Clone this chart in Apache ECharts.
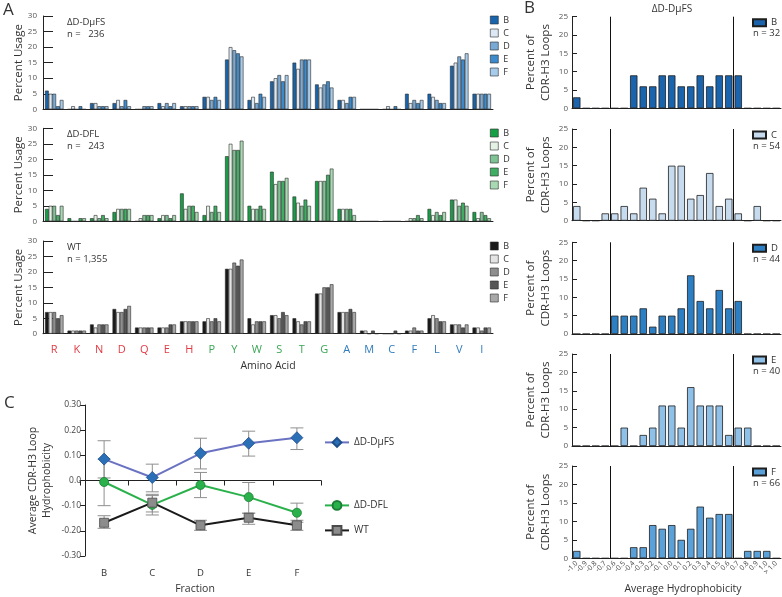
<!DOCTYPE html>
<html><head><meta charset="utf-8">
<script src="https://cdn.jsdelivr.net/npm/echarts@6/dist/echarts.min.js"></script>
<style>html,body{margin:0;padding:0;background:#fff}#c{width:782px;height:597px}</style>
</head><body><div id="c"></div>
<script>
// ---------- DATA ----------
const aminoAcids = ['R','K','N','D','Q','E','H','P','Y','W','S','T','G','A','M','C','F','L','V','I'];
const fractions = ['B','C','D','E','F'];
// Panel A: percent usage, ΔD-DμFS
const dmuB = [6,0,2,2,0,2,1,4,16,3,9,15,8,3,0,0,5,5,14,5];
const dmuC = [5,1,2,3,0,1,1,4,20,4,10,13,7,3,0,1,2,4,15,5];
const dmuD = [5,0,1,1,1,2,1,3,19,2,11,16,8,2,0,0,3,3,17,5];
const dmuE = [1,1,1,3,1,1,1,4,18,5,9,16,9,4,0,1,2,2,16,5];
const dmuF = [3,0,1,1,1,2,1,3,17,4,11,16,7,4,0,0,3,2,18,5];
// ΔD-DFL
const dflB = [4,1,1,3,0,1,9,2,21,5,16,8,13,4,0,0,0,4,7,3];
const dflC = [5,0,2,4,1,2,4,5,25,4,12,6,13,4,0,0,1,2,7,1];
const dflD = [5,0,1,4,2,2,5,3,23,4,13,5,13,4,0,0,1,3,5,3];
const dflE = [2,1,2,4,2,1,5,5,23,5,13,7,15,4,0,0,2,2,6,2];
const dflF = [5,1,1,4,2,2,3,3,26,4,14,5,17,2,0,0,1,3,5,1];
// WT
const wtB = [7,1,3,8,2,2,4,4,21,5,6,5,13,7,1,0,1,5,3,2];
const wtC = [7,1,2,7,2,2,4,5,21,3,6,4,13,7,1,0,1,6,3,2];
const wtD = [7,1,3,7,2,2,4,4,23,4,5,3,15,7,0,0,2,5,3,1];
const wtE = [5,1,3,8,2,3,4,5,22,4,7,4,15,8,1,1,1,4,2,2];
const wtF = [6,1,3,9,2,3,4,4,24,4,6,4,16,7,0,0,1,4,3,2];
// Panel B: histogram of average hydrophobicity (ΔD-DμFS)
const bins = ['-1.0','-0.9','-0.8','-0.7','-0.6','-0.5','-0.4','-0.3','-0.2','-0.1','0.0','0.1','0.2','0.3','0.4','0.5','0.6','0.7','0.8','0.9','1.0','> 1.0'];
const histB = [3,0,0,0,0,0,9,6,6,9,9,6,6,9,6,9,9,9,0,0,0,0];
const histC = [4,0,0,2,2,4,2,9,6,2,15,15,6,7,13,4,6,2,0,4,0,0];
const histD = [0,0,0,0,5,5,5,7,2,5,5,7,16,9,7,12,7,9,0,0,0,0];
const histE = [0,0,0,0,0,5,0,3,5,11,11,5,16,11,11,11,3,5,5,0,0,0];
const histF = [2,0,0,0,0,0,3,3,9,8,9,5,8,14,11,12,12,0,2,2,2,0];
const histN = [32,54,44,40,66];
const cutoffs = [-0.65, 0.65];
// Panel C: average hydrophobicity per fraction
const dmuMean = [0.085, 0.012, 0.108, 0.148, 0.170];
const dmuLo   = [0.010, -0.045, 0.046, 0.097, 0.123];
const dmuHi   = [0.158, 0.065, 0.168, 0.196, 0.209];
const dflMean = [-0.006, -0.097, -0.018, -0.066, -0.128];
const dflLo   = [-0.100, -0.137, -0.068, -0.130, -0.166];
const dflHi   = [0.085, -0.060, 0.032, -0.008, -0.090];
const wtMean  = [-0.168, -0.088, -0.178, -0.148, -0.178];
const wtLo    = [-0.190, -0.125, -0.198, -0.174, -0.198];
const wtHi    = [-0.140, -0.055, -0.158, -0.130, -0.158];

// ---------- CHART ----------
const FONT = '"Open Sans","Noto Sans",sans-serif';
const AX = '#222';
const chart = echarts.init(document.getElementById('c'));

const grid = [], xAxis = [], yAxis = [], series = [], legend = [], title = [];
const txt = (text, left, top, size, extra) => title.push(Object.assign({
  text, left, top, padding: 0,
  textStyle: {fontSize: size, fontWeight: 'normal', color: '#333', fontFamily: FONT}
}, extra || {}));

// ----- Panel A -----
const panelA = [
  {key:'dmu', top:16, h:93.3, data:[dmuB,dmuC,dmuD,dmuE,dmuF],
   colors:['#1864ad','#dce8f4','#7aa9d5','#3d8bcc','#a7cbea'], lt:15.5, label:'ΔD-DμFS', n:'n =   236'},
  {key:'dfl', top:128.3, h:93, data:[dflB,dflC,dflD,dflE,dflF],
   colors:['#16a046','#e4f2e6','#7fc293','#3fae62','#a9d9b3'], lt:128.5, label:'ΔD-DFL', n:'n =   243'},
  {key:'wt', top:241, h:92.7, data:[wtB,wtC,wtD,wtE,wtF],
   colors:['#1a1a1a','#e4e4e4','#8e8e8e','#565656','#a8a8a8'], lt:241.5, label:'WT', n:'n = 1,355'}
];
const aaColor = i => i < 7 ? '#e23b44' : (i < 13 ? '#3aa655' : '#2f7bbd');
panelA.forEach((p, gi) => {
  grid.push({left:43, width:450, top:p.top, height:p.h});
  xAxis.push({
    gridIndex: gi, type:'category', data: aminoAcids,
    axisLine:{lineStyle:{color:AX, width:1}},
    axisTick:{inside:true, length:3, lineStyle:{color:AX}},
    axisLabel: gi === 2 ? {show:true, interval:0, fontSize:11, margin:11, fontFamily:FONT,
      color: (v, i) => aaColor(aminoAcids.indexOf(v))} : {show:false}
  });
  yAxis.push({
    gridIndex: gi, type:'value', min:0, max:30, interval:5,
    axisLine:{show:true, lineStyle:{color:AX}},
    axisTick:{show:true, inside:true, length:10, lineStyle:{color:AX}},
    axisLabel:{fontSize:8, color:'#555', margin:6, fontFamily:FONT},
    splitLine:{show:false},
    name:'Percent Usage', nameLocation:'middle', nameGap:18, nameMoveOverlap:false,
    nameTextStyle:{fontSize:11.5, color:'#333', fontFamily:FONT}
  });
  const names = [];
  p.data.forEach((arr, k) => {
    const nm = p.key + '|' + fractions[k];
    names.push(nm);
    series.push({
      type:'bar', name:nm, xAxisIndex:gi, yAxisIndex:gi, data:arr,
      barGap:'0%', barCategoryGap:'18%',
      itemStyle:{color:p.colors[k], borderColor:'#2a2a2a', borderWidth:0.6},
      emphasis:{disabled:true}, animation:false
    });
  });
  legend.push({
    data:names, orient:'vertical', left:490, top:p.lt, itemWidth:8, itemHeight:8, itemGap:4,
    icon:'rect', selectedMode:false, formatter: n => n.split('|')[1],
    itemStyle:{borderWidth:0.6},
    textStyle:{fontSize:9, color:'#333', fontFamily:FONT}, padding:0
  });
  txt(p.label, 67, p.top + 1, 9.5);
  txt(p.n, 67, p.top + 13, 9.5);
});
txt('Amino Acid', 268, 361, 10.5, {textAlign:'center'});

// ----- Panel B -----
const panelB = [
  {top:16.7, h:91.6, data:histB, color:'#1a64ad'},
  {top:129, h:91.7, data:histC, color:'#c7dbef'},
  {top:242.3, h:91.7, data:histD, color:'#2d7fc4'},
  {top:354, h:92, data:histE, color:'#8fc0e7'},
  {top:466, h:92.3, data:histF, color:'#5ba1d9'}
];
panelB.forEach((p, j) => {
  const gi = 3 + j;
  grid.push({left:572, width:209, top:p.top, height:p.h});
  xAxis.push({
    gridIndex: gi, type:'category', data: bins,
    axisLine:{lineStyle:{color:AX}},
    axisTick:{inside:true, length:3, lineStyle:{color:AX}},
    axisLabel: j === 4 ? {show:true, interval:0, rotate:45, fontSize:7, margin:4, color:'#444', fontFamily:FONT} : {show:false}
  });
  yAxis.push({
    gridIndex: gi, type:'value', min:0, max:25, interval:5,
    axisLine:{show:true, onZero:false, lineStyle:{color:AX}},
    axisTick:{show:true, inside:true, length:5, lineStyle:{color:AX}},
    axisLabel:{fontSize:8, color:'#555', margin:4, fontFamily:FONT},
    splitLine:{show:false},
    name:'Percent of\nCDR-H3 Loops', nameLocation:'middle', nameGap:19,
    nameTextStyle:{fontSize:11.5, color:'#333', lineHeight:15, fontFamily:FONT}
  });
  const nm = 'hist|' + fractions[j];
  series.push({
    type:'bar', name:nm, xAxisIndex: 3 + j, yAxisIndex: gi, data:p.data,
    barCategoryGap:'22%',
    itemStyle:{color:p.color, borderColor:'#1e1e1e', borderWidth:0.8},
    emphasis:{disabled:true}, animation:false
  });
  legend.push({
    data:[nm], left:752, top:p.top + 1, itemWidth:13, itemHeight:7, icon:'rect',
    selectedMode:false, formatter: n => n.split('|')[1], padding:0,
    textStyle:{fontSize:9.5, color:'#333', fontFamily:FONT}
  });
  txt('n = ' + histN[j], 753, p.top + 12, 9.5);
});
// hidden value axes for cut-off lines
panelB.forEach((p, j) => {
  xAxis.push({gridIndex: 3 + j, type:'value', min:-1.05, max:1.15, show:false,
    axisLine:{onZero:false}});
});
panelB.forEach((p, j) => {
  series.push({
    type:'line', name:'cut' + j, xAxisIndex: 8 + j, yAxisIndex: 3 + j, data:[], silent:true,
    markLine:{symbol:'none', silent:true, animation:false, label:{show:false},
      lineStyle:{color:'#111', width:1, type:'solid'},
      data: cutoffs.map(c => ({xAxis:c}))}
  });
});
txt('ΔD-DμFS', 672, 4, 10, {textAlign:'center'});
txt('Average Hydrophobicity', 683, 584, 10.5, {textAlign:'center'});

// ----- Panel C -----
grid.push({left:80, width:241, top:405, height:151});
xAxis.push({ // index 13: labels
  gridIndex:8, type:'category', data:fractions, position:'bottom',
  axisLine:{show:false, onZero:false}, axisTick:{show:false},
  axisLabel:{fontSize:9.5, color:'#333', margin:12, fontFamily:FONT}
});
xAxis.push({ // index 14: zero line
  gridIndex:8, type:'category', data:fractions, position:'top',
  axisLine:{show:true, onZero:true, lineStyle:{color:AX}},
  axisTick:{show:true, inside:true, length:5, lineStyle:{color:AX}},
  axisLabel:{show:false}
});
yAxis.push({
  gridIndex:8, type:'value', min:-0.3, max:0.3, interval:0.1, offset:-5,
  axisLine:{show:true, onZero:false, lineStyle:{color:AX}},
  axisTick:{show:true, length:5, lineStyle:{color:AX}},
  axisLabel:{fontSize:8.5, color:'#444', margin:4, fontFamily:FONT,
    formatter: v => Math.abs(v) < 1e-9 ? '0.0' : v.toFixed(2)},
  splitLine:{show:false},
  name:'Average CDR-H3 Loop\nHydrophobicity', nameLocation:'middle', nameGap:31,
  nameTextStyle:{fontSize:10.5, color:'#333', lineHeight:14, fontFamily:FONT}
});
const errRender = (params, api) => {
  const i = api.value(0);
  const p1 = api.coord([i, api.value(1)]);
  const p2 = api.coord([i, api.value(2)]);
  const w = 6.5;
  const st = {stroke:'#8f8f8f', lineWidth:1};
  return {type:'group', children:[
    {type:'line', shape:{x1:p1[0], y1:p1[1], x2:p2[0], y2:p2[1]}, style:st},
    {type:'line', shape:{x1:p1[0]-w, y1:p1[1], x2:p1[0]+w, y2:p1[1]}, style:st},
    {type:'line', shape:{x1:p2[0]-w, y1:p2[1], x2:p2[0]+w, y2:p2[1]}, style:st}
  ]};
};
const lineDefs = [
  {name:'ΔD-DμFS', mean:dmuMean, lo:dmuLo, hi:dmuHi, line:'#6a72c2', fill:'#2b6fb6', border:'#1d4f8a', symbol:'diamond', size:12, lt:437},
  {name:'ΔD-DFL', mean:dflMean, lo:dflLo, hi:dflHi, line:'#2bb14b', fill:'#2bb14b', border:'#1b7f35', symbol:'circle', size:9, lt:500},
  {name:'WT', mean:wtMean, lo:wtLo, hi:wtHi, line:'#1a1a1a', fill:'#8c8c8c', border:'#4a4a4a', symbol:'rect', size:9, lt:525}
];
lineDefs.forEach(d => {
  series.push({
    type:'custom', name:d.name + ' err', xAxisIndex:13, yAxisIndex:8, z:3,
    encode:{x:0, y:[1,2]}, renderItem: errRender, silent:true, animation:false,
    data: fractions.map((f, i) => [i, d.lo[i], d.hi[i]])
  });
});
lineDefs.forEach(d => {
  series.push({
    type:'line', name:d.name, xAxisIndex:13, yAxisIndex:8, z:4, data:d.mean,
    symbol:d.symbol, symbolSize:d.size, animation:false,
    lineStyle:{color:d.line, width:2},
    itemStyle:{color:d.fill, borderColor:d.border, borderWidth:0.8},
    emphasis:{disabled:true}
  });
  legend.push({
    data:[d.name], left:324, top:d.lt, itemWidth:24, itemHeight:11, itemGap:0,
    selectedMode:false, padding:0,
    textStyle:{fontSize:10, color:'#333', fontFamily:FONT}
  });
});
txt('Fraction', 195, 584, 10.5, {textAlign:'center'});

// panel letters
txt('A', 3, 2, 17);
txt('B', 524, 0, 17);
txt('C', 4, 395, 17);

chart.setOption({
  backgroundColor:'#fff', animation:false,
  textStyle:{fontFamily:FONT},
  title, grid, xAxis, yAxis, series, legend
});
</script></body></html>
